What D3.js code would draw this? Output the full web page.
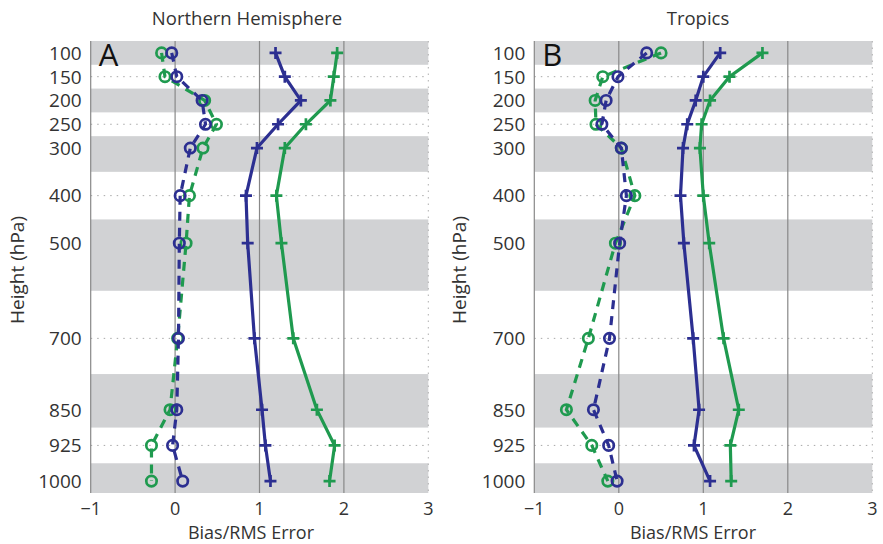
<!DOCTYPE html>
<html>
<head>
<meta charset="utf-8">
<script src="https://cdn.jsdelivr.net/npm/d3@7"></script>
<style>
  body { margin: 0; background: #fff; }
  text { font-family: "Open Sans", "DejaVu Sans", sans-serif; fill: #333; }
</style>
</head>
<body>
<svg id="chart" width="883" height="544"></svg>
<script>
// pressure levels (hPa)
const levels = [100, 150, 200, 250, 300, 400, 500, 700, 850, 925, 1000];
const xTicks = [-1, 0, 1, 2, 3];

// Northern Hemisphere
const nhBlueRms = [1.19, 1.30, 1.49, 1.22, 0.97, 0.84, 0.86, 0.94, 1.03, 1.07, 1.13];
const nhGreenRms = [1.92, 1.88, 1.84, 1.55, 1.30, 1.20, 1.26, 1.40, 1.68, 1.89, 1.83];
const nhBlueBias = [-0.04, 0.02, 0.32, 0.36, 0.18, 0.06, 0.05, 0.04, 0.02, -0.03, 0.09];
const nhGreenBias = [-0.16, -0.12, 0.35, 0.49, 0.33, 0.17, 0.13, 0.03, -0.06, -0.28, -0.28];

// Tropics
const trBlueRms = [1.20, 1.00, 0.91, 0.81, 0.76, 0.73, 0.77, 0.88, 0.95, 0.89, 1.08];
const trGreenRms = [1.70, 1.31, 1.08, 0.98, 0.96, 1.00, 1.07, 1.24, 1.42, 1.32, 1.33];
const trBlueBias = [0.33, -0.01, -0.15, -0.20, 0.03, 0.09, 0.01, -0.11, -0.30, -0.12, -0.02];
const trGreenBias = [0.50, -0.19, -0.28, -0.27, 0.03, 0.19, -0.04, -0.36, -0.62, -0.32, -0.13];

const BLUE = '#2c2f91';
const GREEN = '#1f9a4f';
const BAND = '#d1d2d4';

const svg = d3.select('#chart');

const y = d3.scaleLinear().domain([75, 1025]).range([41, 493]);

// band edges halfway between levels
const edges = [75];
for (let i = 0; i < levels.length - 1; i++) edges.push((levels[i] + levels[i + 1]) / 2);
edges.push(1025);

function panel(opts) {
  const x = d3.scaleLinear().domain([-1, 3]).range([opts.x0, opts.x1]);
  const g = svg.append('g');

  // alternating grey bands
  g.selectAll('rect.band')
    .data(levels.map((l, i) => ({ i, top: edges[i], bot: edges[i + 1] })).filter(d => d.i % 2 === 0))
    .join('rect')
    .attr('class', 'band')
    .attr('x', x(-1)).attr('width', x(3) - x(-1))
    .attr('y', d => y(d.top)).attr('height', d => y(d.bot) - y(d.top))
    .attr('fill', BAND);

  // dotted horizontal grid (only shows in the white rows)
  g.selectAll('line.hgrid')
    .data(levels.filter((l, i) => i % 2 === 1))
    .join('line')
    .attr('x1', x(-1)).attr('x2', x(3))
    .attr('y1', d => y(d)).attr('y2', d => y(d))
    .attr('stroke', '#a8a8a8').attr('stroke-width', 1)
    .attr('stroke-dasharray', '1.5,5');

  // right edge dotted
  g.append('line')
    .attr('x1', x(3)).attr('x2', x(3)).attr('y1', y(75)).attr('y2', y(1025))
    .attr('stroke', '#b0b0b0').attr('stroke-dasharray', '1.5,5');

  // solid vertical lines
  g.selectAll('line.vgrid')
    .data([-1, 0, 1, 2])
    .join('line')
    .attr('x1', d => x(d)).attr('x2', d => x(d))
    .attr('y1', y(75)).attr('y2', y(1025))
    .attr('stroke', '#888').attr('stroke-width', 1.2);

  // y tick labels
  g.selectAll('text.ytick')
    .data(levels)
    .join('text')
    .attr('x', x(-1) - 9).attr('y', d => y(d))
    .attr('dy', '0.36em')
    .attr('text-anchor', 'end')
    .attr('font-size', 19)
    .text(d => d);

  // x tick labels
  g.selectAll('text.xtick')
    .data(xTicks)
    .join('text')
    .attr('x', d => x(d)).attr('y', 515)
    .attr('text-anchor', 'middle')
    .attr('font-size', 18)
    .text(d => d < 0 ? '\u2212' + Math.abs(d) : d);

  g.append('text')
    .attr('x', opts.xlabelX).attr('y', 538.5)
    .attr('text-anchor', 'middle').attr('font-size', 18)
    .text('Bias/RMS Error');

  g.append('text')
    .attr('transform', `translate(${opts.ylabelX},270) rotate(-90)`)
    .attr('text-anchor', 'middle').attr('font-size', 19)
    .text('Height (hPa)');

  g.append('text')
    .attr('x', opts.titleX).attr('y', 25)
    .attr('text-anchor', 'middle').attr('font-size', 18.5)
    .text(opts.title);

  g.append('text')
    .attr('x', x(-1) + 8).attr('y', 66)
    .attr('font-size', 31).style('fill', '#111')
    .text(opts.letter);

  const line = d3.line().x(d => x(d.v)).y(d => y(d.p));

  function series(vals, color, dashed) {
    const data = vals.map((v, i) => ({ v, p: levels[i] }));
    g.append('path')
      .datum(data)
      .attr('d', line)
      .attr('fill', 'none')
      .attr('stroke', color)
      .attr('stroke-width', 3.2)
      .attr('stroke-dasharray', dashed ? '9,7' : null);
    if (dashed) {
      g.selectAll(null)
        .data(data)
        .join('circle')
        .attr('cx', d => x(d.v)).attr('cy', d => y(d.p))
        .attr('r', 5.2)
        .attr('fill', 'none')
        .attr('stroke', color).attr('stroke-width', 2.7);
    } else {
      g.selectAll(null)
        .data(data)
        .join('path')
        .attr('d', d => {
          const cx = x(d.v), cy = y(d.p), s = 6;
          return `M${cx - s},${cy}H${cx + s}M${cx},${cy - s}V${cy + s}`;
        })
        .attr('stroke', color).attr('stroke-width', 2.7);
    }
  }

  series(opts.greenRms, GREEN, false);
  series(opts.blueRms, BLUE, false);
  series(opts.greenBias, GREEN, true);
  series(opts.blueBias, BLUE, true);
}

panel({
  x0: 90.7, x1: 428.3, title: 'Northern Hemisphere', titleX: 247, letter: 'A',
  xlabelX: 251, ylabelX: 24,
  blueRms: nhBlueRms, greenRms: nhGreenRms, blueBias: nhBlueBias, greenBias: nhGreenBias
});

panel({
  x0: 534.3, x1: 872.3, title: 'Tropics', titleX: 698, letter: 'B',
  xlabelX: 693, ylabelX: 466,
  blueRms: trBlueRms, greenRms: trGreenRms, blueBias: trBlueBias, greenBias: trGreenBias
});
</script>
</body>
</html>
